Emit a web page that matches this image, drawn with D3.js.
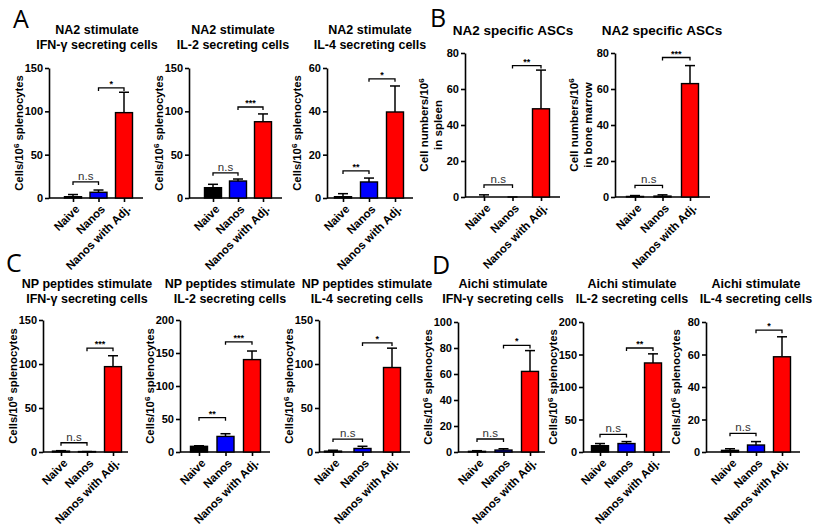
<!DOCTYPE html>
<html><head><meta charset="utf-8">
<script src="https://cdn.jsdelivr.net/npm/d3@7"></script>
<style>
body{margin:0;background:#fff;}
svg{display:block;font-family:"Liberation Sans",Arial,sans-serif;}
</style></head>
<body><svg id="c" width="814" height="527"></svg>
<script>
// ---------- data ----------
const groups = ["Naive", "Nanos", "Nanos with Adj."];
const panelLetters = ["A", "B", "C", "D"];
const titleLine1 = ["NA2 stimulate","NA2 stimulate","NA2 stimulate","NA2 specific ASCs","NA2 specific ASCs",
  "NP peptides stimulate","NP peptides stimulate","NP peptides stimulate","Aichi stimulate","Aichi stimulate","Aichi stimulate"];
const titleLine2 = ["IFN-γ secreting cells","IL-2 secreting cells","IL-4 secreting cells","","",
  "IFN-γ secreting cells","IL-2 secreting cells","IL-4 secreting cells","IFN-γ secreting cells","IL-2 secreting cells","IL-4 secreting cells"];
const yLabel1 = ["Cells/10","Cells/10","Cells/10","Cell numbers/10","Cell numbers/10",
  "Cells/10","Cells/10","Cells/10","Cells/10","Cells/10","Cells/10"];
const yLabelSup = "6";
const yLabelTail = [" splenocytes"," splenocytes"," splenocytes","",""," splenocytes"," splenocytes"," splenocytes"," splenocytes"," splenocytes"," splenocytes"];
const yLabel2 = ["","","","in spleen","in bone marrow","","","","","",""];
const yMax = [150,150,60,80,80,150,200,150,100,200,80];
const yTicks = [[0,50,100,150],[0,50,100,150],[0,20,40,60],[0,20,40,60,80],[0,20,40,60,80],
  [0,50,100,150],[0,50,100,150,200],[0,50,100,150],[0,20,40,60,80,100],[0,50,100,150,200],[0,20,40,60,80]];
const meanNaive = [1.5, 11.9, 0.6, 0, 0.3, 1, 8.6, 1, 0.5, 9.7, 1];
const meanNanos = [6.6, 19.6, 7.4, 0, 0.5, 0.5, 23.6, 4, 1.5, 13, 4.3];
const meanAdj   = [98.5, 88, 39.7, 49, 63, 97, 140, 96, 62, 137, 58.6];
const errNaive  = [4, 15.8, 2, 1.2, 0.8, 1.5, 9.5, 2, 1, 13, 2];
const errNanos  = [9.2, 21.9, 9.2, 0, 1.2, 0.5, 27.7, 6.5, 2.5, 16, 6.4];
const errAdj    = [122, 97, 51.7, 70.5, 73, 109.4, 153, 118, 78, 151, 70.9];
const sigLeft   = ["n.s","n.s","**","n.s","n.s","n.s","**","n.s","n.s","n.s","n.s"];
const sigLeftAt = [18.5, 29, 12.5, 6.7, 6.5, 10.5, 52, 14.7, 10, 27, 11.5];
const sigRight  = ["*","***","*","**","***","***","***","*","*","**","*"];
const sigRightAt= [127, 105, 55, 73, 77.5, 118, 167, 124, 82, 160, 75];

// ---------- layout (positions only) ----------
const layout = [
  {ax:49, end:143, x0:73, x2:124, top:68, zero:198, tx:97},
  {ax:189, end:282, x0:213, x2:263, top:68, zero:198, tx:233},
  {ax:327, end:413, x0:343, x2:395, top:68, zero:198, tx:370},
  {ax:465, end:560, x0:484, x2:541, top:53, zero:197, tx:513},
  {ax:615, end:710, x0:635, x2:690, top:53, zero:197, tx:662},
  {ax:43, end:128, x0:61, x2:113, top:320, zero:452, tx:87},
  {ax:180, end:270, x0:199, x2:252, top:320, zero:452, tx:230},
  {ax:319, end:410, x0:333, x2:392, top:320, zero:452, tx:367},
  {ax:458, end:545, x0:477, x2:530, top:322, zero:452, tx:503},
  {ax:583, end:670, x0:600, x2:653, top:322, zero:452, tx:632},
  {ax:706, end:800, x0:730, x2:782, top:322, zero:452, tx:756}
];
const letterPos = [[13,28],[430,27],[6,272],[432,274]];
const barColors = ["#000000","#0000ff","#ff0000"];

const svg = d3.select("#c");
panelLetters.forEach((L,i)=>{
  svg.append("text").attr("x",letterPos[i][0]).attr("y",letterPos[i][1])
    .attr("font-size",25).attr("font-family","'Open Sans','Liberation Sans',sans-serif").text(L);
});

layout.forEach((p,i)=>{
  const g = svg.append("g");
  const y = d3.scaleLinear().domain([0,yMax[i]]).range([p.zero,p.top]);
  const x = d3.scalePoint().domain(groups).range([p.x0,p.x2]);
  const isB = i===3 || i===4;
  const row1 = i<5;
  // title
  const titleY = isB ? 35 : (row1 ? 34 : 288);
  const tfs = isB ? 13.5 : 12.5;
  g.append("text").attr("x",p.tx).attr("y",titleY).attr("text-anchor","middle")
    .attr("font-size",tfs).attr("font-weight","bold").text(titleLine1[i]);
  if (titleLine2[i]) g.append("text").attr("x",p.tx).attr("y",titleY+15).attr("text-anchor","middle")
    .attr("font-size",tfs).attr("font-weight","bold").text(titleLine2[i]);

  // y axis
  const ya = g.append("g").attr("transform",`translate(${p.ax},0)`)
    .call(d3.axisLeft(y).tickValues(yTicks[i]).tickSize(4).tickSizeOuter(0).tickPadding(2).tickFormat(d3.format("d")));
  ya.selectAll("path,line").attr("stroke","#000").attr("stroke-width",1.6);
  ya.selectAll("text").attr("font-size",11).attr("font-weight","bold").attr("font-family","'Liberation Sans',Arial,sans-serif");

  // y label
  const cy = (p.top+p.zero)/2;
  if (isB) {
    const t1 = g.append("text").attr("transform",`translate(${p.ax-37},${cy}) rotate(-90)`)
      .attr("text-anchor","middle").attr("font-size",11.5).attr("font-weight","bold");
    t1.append("tspan").text(yLabel1[i]);
    t1.append("tspan").attr("dy",-4).attr("font-size",8).text(yLabelSup);
    g.append("text").attr("transform",`translate(${p.ax-23},${cy}) rotate(-90)`)
      .attr("text-anchor","middle").attr("font-size",11.5).attr("font-weight","bold").text(yLabel2[i]);
  } else {
    const t = g.append("text").attr("transform",`translate(${p.ax-26},${cy}) rotate(-90)`)
      .attr("text-anchor","middle").attr("font-size",11.3).attr("font-weight","bold");
    t.append("tspan").text(yLabel1[i]);
    t.append("tspan").attr("dy",-4).attr("font-size",8).text(yLabelSup);
    t.append("tspan").attr("dy",4).text(yLabelTail[i]);
  }

  // x axis
  g.append("line").attr("x1",p.ax).attr("x2",p.end).attr("y1",p.zero).attr("y2",p.zero)
    .attr("stroke","#000").attr("stroke-width",1.6);
  const xa = g.append("g").attr("transform",`translate(0,${p.zero})`)
    .call(d3.axisBottom(x).tickSize(4).tickSizeOuter(0));
  xa.select(".domain").remove();
  xa.selectAll("line").attr("stroke","#000").attr("stroke-width",1.6);
  xa.selectAll("text").attr("font-size",11.5).attr("font-weight","bold")
    .attr("font-family","'Liberation Sans',Arial,sans-serif")
    .attr("text-anchor","end").attr("dy","0.35em")
    .attr("transform","translate(4,9) rotate(-45)").attr("x",0).attr("y",0);

  // bars
  const means = [meanNaive[i],meanNanos[i],meanAdj[i]];
  const errs = [errNaive[i],errNanos[i],errAdj[i]];
  const bw = 17;
  groups.forEach((grp,k)=>{
    const cx = x(grp);
    g.append("line").attr("x1",cx).attr("x2",cx).attr("y1",y(means[k])).attr("y2",y(errs[k]))
      .attr("stroke","#000").attr("stroke-width",1.5);
    g.append("line").attr("x1",cx-5).attr("x2",cx+5).attr("y1",y(errs[k])).attr("y2",y(errs[k]))
      .attr("stroke","#000").attr("stroke-width",1.5);
    if (means[k] > 0) {
      g.append("rect").attr("x",cx-bw/2).attr("width",bw).attr("y",y(means[k]))
        .attr("height",p.zero-y(means[k])).attr("fill",barColors[k])
        .attr("stroke","#000").attr("stroke-width",1.4);
    }
  });

  // significance brackets
  const bracket = (a,b,h,label,isNs)=>{
    const yy = y(h), xa1 = x(a), xb1 = x(b);
    g.append("path").attr("d",`M${xa1},${yy+3}V${yy}H${xb1}V${yy+3}`)
      .attr("fill","none").attr("stroke","#000").attr("stroke-width",1.3);
    g.append("text").attr("x",(xa1+xb1)/2).attr("y",isNs? yy-2 : yy-1).attr("text-anchor","middle")
      .attr("font-size",isNs?11.5:9).attr("fill", isNs ? "#333" : "#000")
      .attr("font-weight", isNs ? "normal" : "bold").text(label);
  };
  bracket(groups[0],groups[1],sigLeftAt[i],sigLeft[i],sigLeft[i]==="n.s");
  bracket(groups[1],groups[2],sigRightAt[i],sigRight[i],sigRight[i]==="n.s");
});
</script></body></html>
